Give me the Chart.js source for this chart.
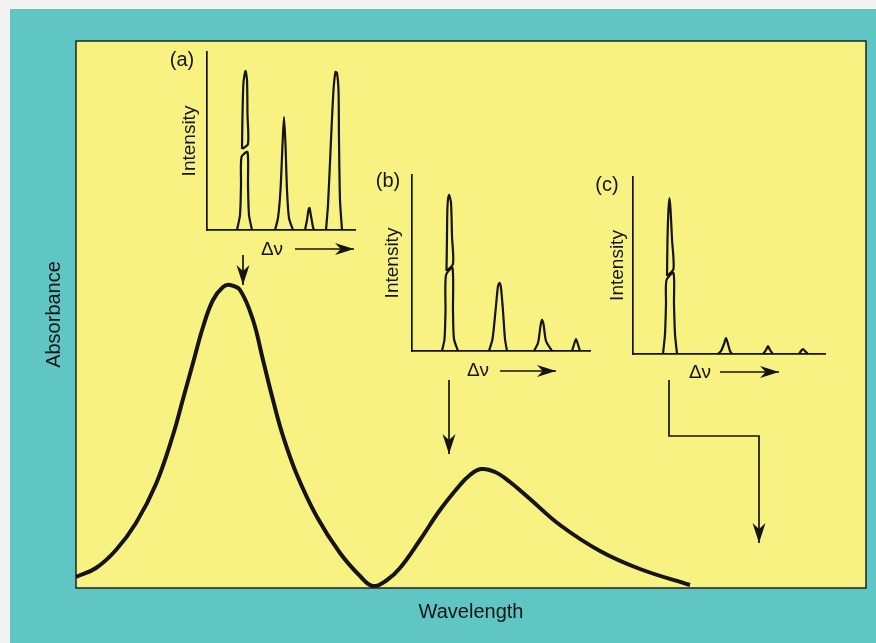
<!DOCTYPE html>
<html>
<head>
<meta charset="utf-8">
<title>Absorbance and Raman spectra</title>
<script src="https://cdn.jsdelivr.net/npm/chart.js@4.4.1/dist/chart.umd.min.js"></script>
<style>
  html, body { margin: 0; padding: 0; background: #f3f3f1; }
  #wrap { position: relative; width: 876px; height: 643px; overflow: hidden; }
  #wrap canvas { position: absolute; }
</style>
</head>
<body>
<div id="wrap">
  <canvas id="mainChart" width="876" height="643" style="left:0;top:0"></canvas>
  <canvas id="insetA" width="210" height="245" style="left:160px;top:40px"></canvas>
  <canvas id="insetB" width="240" height="240" style="left:365px;top:160px"></canvas>
  <canvas id="insetC" width="255" height="240" style="left:585px;top:165px"></canvas>
</div>
<script>
// main absorbance curve (arbitrary units)
const wavelength = [0, 20, 40, 60, 80, 97, 107, 117, 127, 137, 147, 154, 164, 177, 187, 197, 207, 221, 241, 264,
  284, 297, 311, 324, 344, 364, 384, 394, 405, 419, 434, 454, 484, 524, 564, 614];
const absorbance = [11, 20, 38, 65, 104, 153, 189, 225, 261, 288, 301, 303, 298, 268, 228, 188, 152, 113, 71, 35,
  12, 2, 8, 20, 48, 78, 103, 113, 119, 116, 106, 89, 63, 37, 19, 3];

// arrows from the insets down to the curve, in wavelength/absorbance units
const arrowA = [[167, 333], [167, 303]];
const arrowB = [[373, 208], [373, 134]];
const arrowC = [[593, 208], [593, 152], [683, 152], [683, 45]];

// inset spectra: one outline per peak (shift, intensity); tall peaks are cut in two (axis break)
const peaksA = [
  { x: [30, 33, 34, 34.5, 40.5, 41, 42, 45], y: [0, 15, 45, 73, 78, 45, 15, 0] },
  { x: [35, 35.5, 36.5, 38.5, 40, 40.5, 41, 35], y: [81, 115, 148, 159, 150, 115, 86, 81] },
  { x: [68, 71, 73.5, 75.5, 77, 78.5, 80, 82, 86], y: [0, 12, 40, 85, 113, 85, 40, 12, 0] },
  { x: [98, 100, 101.5, 102.5, 104, 106, 107], y: [0, 10, 20, 22, 14, 3, 0] },
  { x: [119, 121, 124, 126.5, 128.5, 130, 131.5, 132, 133, 135], y: [0, 25, 90, 140, 158, 157, 140, 90, 30, 0] }
];
const peaksB = [
  { x: [30, 32.5, 33.5, 34, 40.5, 41, 42, 46], y: [0, 12, 40, 76, 83, 40, 12, 0] },
  { x: [34.5, 35, 35.5, 37, 39, 40, 41, 34.5], y: [80, 115, 145, 156, 148, 115, 87, 80] },
  { x: [77, 80.5, 83.5, 86, 87.5, 89, 91, 93, 95], y: [0, 12, 40, 65, 68, 63, 40, 12, 0] },
  { x: [122, 126, 128.5, 130, 131.5, 134, 140], y: [0, 8, 25, 31, 27, 10, 0] },
  { x: [160, 162.5, 164, 165.5, 168], y: [0, 8, 12, 8, 0] }
];
const peaksC = [
  { x: [30, 32, 33, 33.5, 40.5, 41, 42, 44], y: [0, 20, 50, 74, 81, 50, 20, 0] },
  { x: [34, 34.5, 35.5, 36.5, 37.5, 39, 40.5, 34], y: [78, 115, 145, 156, 145, 115, 85, 78] },
  { x: [85, 88, 91, 93, 95, 97, 99], y: [0, 3, 10, 16, 10, 3, 0] },
  { x: [130, 133, 135, 137, 140], y: [0, 4, 8, 4, 0] },
  { x: [166, 168, 170, 172, 175], y: [0, 3, 5, 3, 0] }
];

const TEAL = '#60c6c4';
const YELLOW = '#f8f282';
const INK = '#141414';
const FONT = '"Liberation Sans", Arial, Helvetica, sans-serif';

Chart.defaults.font.family = FONT;
Chart.defaults.color = INK;

function toPoints(xs, ys) {
  return xs.map((x, i) => ({ x: x, y: ys[i] }));
}

function arrowHead(ctx, x, y, angle, len, half) {
  ctx.save();
  ctx.translate(x, y);
  ctx.rotate(angle);
  ctx.beginPath();
  ctx.moveTo(0, 0);
  ctx.lineTo(-len, -half);
  ctx.lineTo(-len * 0.7, 0);
  ctx.lineTo(-len, half);
  ctx.closePath();
  ctx.fill();
  ctx.restore();
}

function drawArrow(chart, path, len, half) {
  const { ctx, scales } = chart;
  const pts = path.map(p => [scales.x.getPixelForValue(p[0]), scales.y.getPixelForValue(p[1])]);
  ctx.save();
  ctx.strokeStyle = INK;
  ctx.fillStyle = INK;
  ctx.lineWidth = 1.7;
  ctx.beginPath();
  pts.forEach((p, i) => i ? ctx.lineTo(p[0], p[1]) : ctx.moveTo(p[0], p[1]));
  ctx.stroke();
  const a = pts[pts.length - 2], b = pts[pts.length - 1];
  arrowHead(ctx, b[0], b[1], Math.atan2(b[1] - a[1], b[0] - a[0]), len, half);
  ctx.restore();
}

// teal page, yellow plot panel with black frame
const panelPlugin = {
  id: 'panel',
  beforeDraw(chart) {
    const { ctx, chartArea: a } = chart;
    ctx.save();
    ctx.fillStyle = '#f3f3f1';
    ctx.fillRect(0, 0, chart.width, chart.height);
    ctx.fillStyle = TEAL;
    ctx.fillRect(10, 9, chart.width - 10, chart.height - 9);
    ctx.fillStyle = YELLOW;
    ctx.fillRect(a.left, a.top, a.right - a.left, a.bottom - a.top);
    ctx.strokeStyle = '#222';
    ctx.lineWidth = 1.5;
    ctx.strokeRect(a.left, a.top, a.right - a.left, a.bottom - a.top);
    ctx.restore();
  },
  afterDatasetsDraw(chart) {
    [arrowA, arrowB, arrowC].forEach(p => drawArrow(chart, p, 20, 6.5));
  }
};

new Chart(document.getElementById('mainChart'), {
  type: 'scatter',
  data: {
    datasets: [{
      label: 'Absorbance',
      data: toPoints(wavelength, absorbance),
      showLine: true,
      borderColor: INK,
      borderWidth: 4,
      pointRadius: 0,
      tension: 0.4,
      clip: false
    }]
  },
  options: {
    responsive: false,
    animation: false,
    devicePixelRatio: 1,
    layout: { padding: { left: 0, top: 41, right: 10, bottom: 0 } },
    plugins: { legend: { display: false }, tooltip: { enabled: false } },
    scales: {
      x: {
        type: 'linear', min: 0, max: 790,
        grid: { display: false }, border: { display: false }, ticks: { display: false },
        title: { display: true, text: 'Wavelength', font: { size: 20 }, padding: { top: 0, bottom: 19 } },
        afterFit(s) { s.height = 55; }
      },
      y: {
        type: 'linear', min: 0, max: 547,
        grid: { display: false }, border: { display: false }, ticks: { display: false },
        title: { display: true, text: 'Absorbance', font: { size: 20 }, padding: { top: 42, bottom: 0 } },
        afterFit(s) { s.width = 76; }
      }
    }
  },
  plugins: [panelPlugin]
});

// tag "(x)", the Δν label and its arrow under each inset
const insetLabels = {
  id: 'insetLabels',
  afterDraw(chart, args, opts) {
    const { ctx, scales } = chart;
    const px = v => scales.x.getPixelForValue(v);
    const py = v => scales.y.getPixelForValue(v);
    ctx.save();
    ctx.fillStyle = INK;
    ctx.textAlign = 'center';
    ctx.textBaseline = 'middle';
    ctx.font = '20px ' + FONT;
    ctx.fillText(opts.tag, px(opts.tagAt[0]), py(opts.tagAt[1]));
    ctx.font = '19px ' + FONT;
    ctx.fillText('Δν', px(opts.dnuAt[0]), py(opts.dnuAt[1]));
    ctx.restore();
    drawArrow(chart, [[opts.arrow[0], opts.arrow[2]], [opts.arrow[1], opts.arrow[2]]], 19, 6);
  }
};

function makeInset(id, peaks, width, height, pad, axisW, axisH, titlePad, labels) {
  new Chart(document.getElementById(id), {
    type: 'scatter',
    data: {
      datasets: peaks.map(p => ({
        data: toPoints(p.x, p.y),
        showLine: true,
        borderColor: INK,
        borderWidth: 2.2,
        pointRadius: 0,
        tension: 0.25,
        clip: false
      }))
    },
    options: {
      responsive: false,
      animation: false,
      devicePixelRatio: 1,
      layout: { padding: pad },
      plugins: { legend: { display: false }, tooltip: { enabled: false }, insetLabels: labels },
      scales: {
        x: {
          type: 'linear', min: 0, max: width,
          grid: { display: false }, ticks: { display: false },
          border: { display: true, color: INK, width: 1.7 },
          afterFit(s) { s.height = axisH; }
        },
        y: {
          type: 'linear', min: 0, max: height,
          grid: { display: false }, ticks: { display: false },
          border: { display: true, color: INK, width: 1.7 },
          title: { display: true, text: 'Intensity', font: { size: 19 }, padding: { top: titlePad, bottom: 0 } },
          afterFit(s) { s.width = axisW; }
        }
      }
    },
    plugins: [insetLabels]
  });
}

makeInset('insetA', peaksA, 148, 178, { left: 0, top: 12, right: 15, bottom: 0 }, 47, 55, 18,
  { tag: '(a)', tagAt: [-25, 170], dnuAt: [65, -20], arrow: [88, 147, -19] });
makeInset('insetB', peaksB, 178, 176, { left: 0, top: 15, right: 15, bottom: 0 }, 47, 49, 16,
  { tag: '(b)', tagAt: [-24, 170], dnuAt: [66, -20], arrow: [88, 144, -20] });
makeInset('insetC', peaksC, 192, 177, { left: 0, top: 12, right: 15, bottom: 0 }, 48, 51, 21,
  { tag: '(c)', tagAt: [-26, 169], dnuAt: [67, -19], arrow: [87, 146, -18] });
</script>
</body>
</html>
